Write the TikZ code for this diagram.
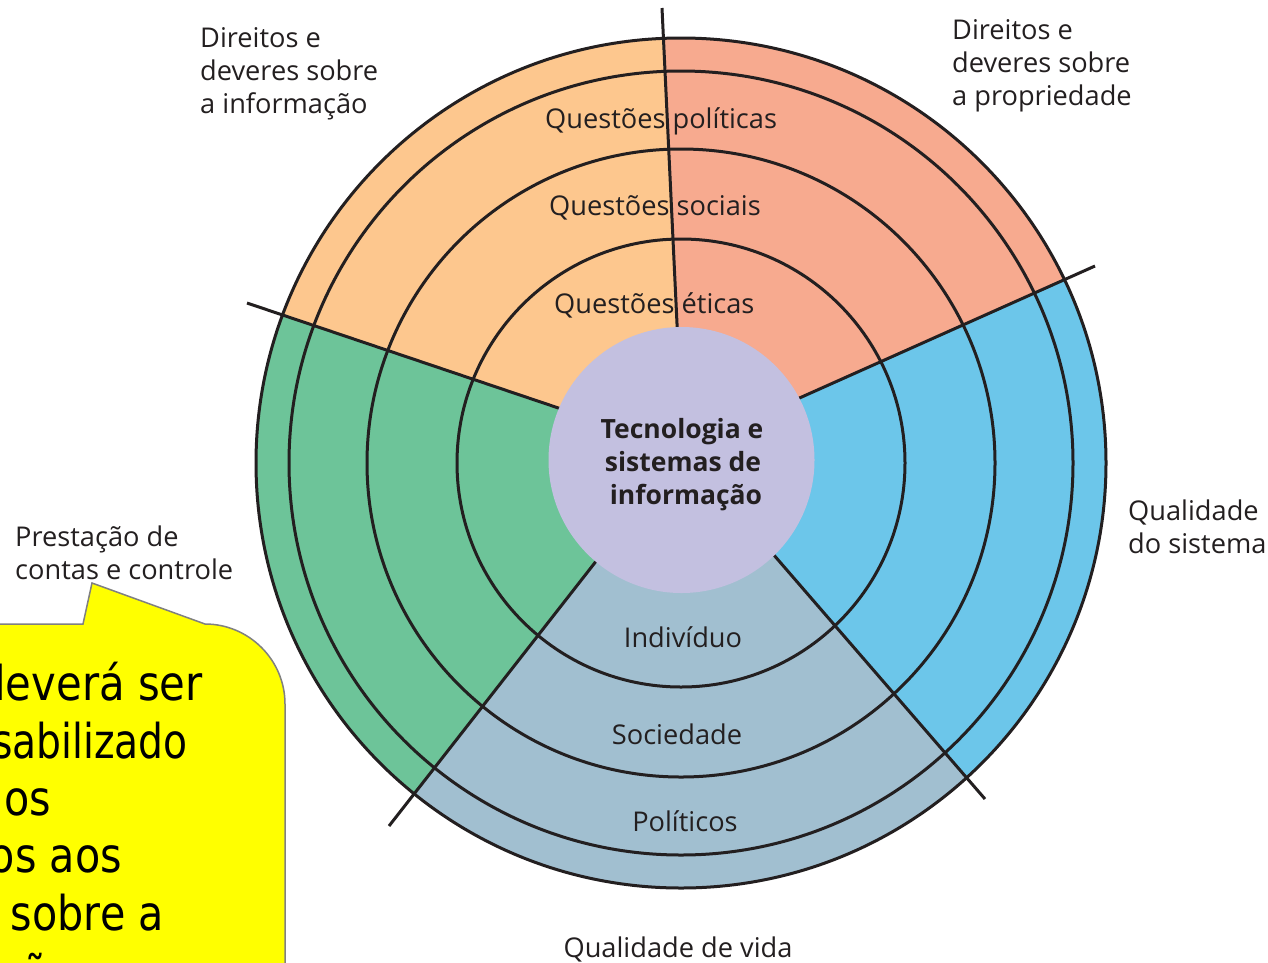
\documentclass[tikz,border=0pt]{standalone}
\usepackage{fontspec}
\setmainfont{Open Sans}
\newfontfamily\callfont[FakeStretch=0.86]{DejaVu Sans}
\definecolor{ink}{HTML}{231F20}
\definecolor{corange}{HTML}{FDC78E}
\definecolor{csalmon}{HTML}{F7AA8F}
\definecolor{cblue}{HTML}{6CC6EA}
\definecolor{cgrayblue}{HTML}{A1BFD0}
\definecolor{cgreen}{HTML}{6DC499}
\definecolor{cpurple}{HTML}{C3C0E0}
\definecolor{cyellow}{HTML}{FFFF00}
\definecolor{cedge}{HTML}{808080}
\tikzset{
  ring/.style={draw=ink, line width=3pt},
  divider/.style={draw=ink, line width=3pt},
  lbl/.style={anchor=base west, inner sep=0pt, text=ink, font=\fontsize{27.2}{33}\selectfont},
  clbl/.style={anchor=base, inner sep=0pt, text=ink, font=\fontsize{27.2}{33}\selectfont},
  boldlbl/.style={anchor=base, inner sep=0pt, text=ink, font=\fontsize{26.5}{33}\selectfont\bfseries},
  calltext/.style={anchor=base east, inner sep=0pt, text=black, font=\callfont\fontsize{48}{57}\selectfont},
  callout/.style={fill=cyellow, draw=cedge, line width=1.5pt}
}
\begin{document}
\begin{tikzpicture}[x=1pt,y=-1pt]
\useasboundingbox (0,0) rectangle (1268,962);
\begin{scope}
\clip (0,0) rectangle (1268,962);
\fill[white] (0,0) rectangle (1268,962);
% geometry
\coordinate (C) at (681,463);
\coordinate (P) at (683,450);
\coordinate (T) at (630.5,-655);
\coordinate (UL) at (-407,82.5);
\coordinate (UR) at (1713,-10);
\coordinate (LL) at (-52,1390);
\coordinate (LR) at (1438,1322.5);
\coordinate (Tend) at (662,8);
\coordinate (ULend) at (247,303);
\coordinate (URend) at (1095,266);
\coordinate (LLend) at (389,826);
\coordinate (LRend) at (985,799);
% sectors
\begin{scope}
\clip (C) circle[radius=425];
\fill[csalmon] (P) -- (T) -- (UR) -- cycle;
\fill[corange] (P) -- (UL) -- (T) -- cycle;
\fill[cgreen] (P) -- (LL) -- (UL) -- cycle;
\fill[cgrayblue] (P) -- (LR) -- (LL) -- cycle;
\fill[cblue] (P) -- (UR) -- (LR) -- cycle;
\end{scope}
% rings
\draw[ring] (C) circle[radius=425];
\draw[ring] (C) circle[radius=392];
\draw[ring] (C) circle[radius=314];
\draw[ring] (C) circle[radius=224];
% dividers
\draw[divider] (P) -- (Tend);
\draw[divider] (P) -- (ULend);
\draw[divider] (P) -- (URend);
\draw[divider] (P) -- (LLend);
\draw[divider] (P) -- (LRend);
% core
\node[circle, fill=cpurple, minimum size=266pt, inner sep=0pt] (core) at (681.5,460) {};
\node[boldlbl] (t1) at (682,438) {Tecnologia e};
\node[boldlbl] (t2) at (683,471) {sistemas de};
\node[boldlbl] (t3) at (686,504) {informação};
% ring labels
\node[lbl] (qp) at (545,128) {Questões políticas};
\node[lbl] (qso) at (549,215) {Questões sociais};
\node[lbl] (qe) at (554,313) {Questões éticas};
\node[clbl] (ind) at (683,647) {Indivíduo};
\node[clbl] (soc) at (677,744) {Sociedade};
\node[clbl] (pol) at (685,831) {Políticos};
% outer labels
\node[lbl] (di1) at (200,47) {Direitos e};
\node[lbl] (di2) at (200,80) {deveres sobre};
\node[lbl] (di3) at (200,113) {a informação};
\node[lbl] (dp1) at (952,39) {Direitos e};
\node[lbl] (dp2) at (952,72) {deveres sobre};
\node[lbl] (dp3) at (952,105) {a propriedade};
\node[lbl] (qs1) at (1128,520) {Qualidade};
\node[lbl] (qs2) at (1128,553) {do sistema};
\node[lbl] (pc1) at (15,546) {Prestação de};
\node[lbl] (pc2) at (15,579) {contas e controle};
\node[clbl] (qv) at (678,957) {Qualidade de vida};
% callout
\coordinate (tip) at (92,583);
\path[callout] (-10,624) -- (83,624) -- (tip) -- (205,624)
  .. controls (249,624) and (285,660) .. (285,704) -- (285,990) -- (-10,990) -- cycle;
\node[calltext] (c1) at (203,700) {\scalebox{1.012}[1]{deverá ser}};
\node[calltext] (c2) at (188,758) {\scalebox{0.95}[1]{sabilizado}};
\node[calltext] (c3) at (51,815) {nos};
\node[calltext] (c4) at (122,872) {dos aos};
\node[calltext] (c5) at (164,930) {sobre a};
\node[calltext] (c6) at (113,990) {ção a};
\end{scope}
\end{tikzpicture}
\end{document}
